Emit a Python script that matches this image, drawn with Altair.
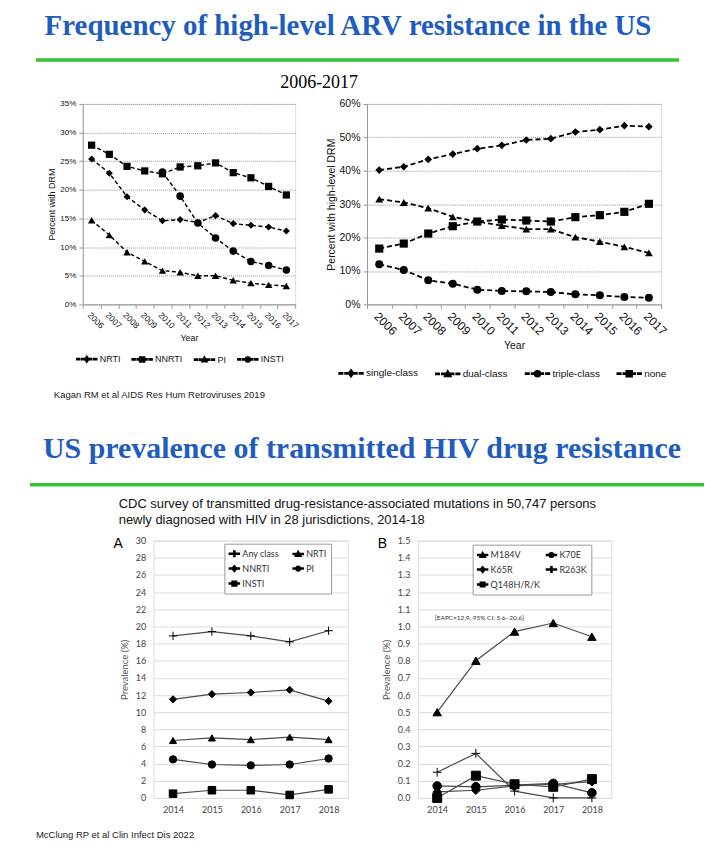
import altair as alt
import pandas as pd

# ---------------- data ----------------
years_top = [2006, 2007, 2008, 2009, 2010, 2011, 2012, 2013, 2014, 2015, 2016, 2017]

tl_names = ["NRTI", "NNRTI", "PI", "INSTI"]
tl_nrti = [25.4, 22.9, 18.8, 16.5, 14.6, 14.8, 14.3, 15.5, 14.1, 13.8, 13.5, 12.8]
tl_nnrti = [27.8, 26.2, 24.1, 23.3, 22.8, 24.0, 24.2, 24.7, 23.0, 22.1, 20.6, 19.1]
tl_pi = [14.7, 12.1, 9.1, 7.5, 5.9, 5.6, 5.0, 5.0, 4.2, 3.7, 3.4, 3.2]
tl_insti = [None, None, None, None, 23.1, 18.9, 14.2, 11.6, 9.3, 7.5, 6.8, 6.0]
tl_ticks = [0, 5, 10, 15, 20, 25, 30, 35]

tr_names = ["single-class", "dual-class", "triple-class", "none"]
tr_single = [40.2, 41.2, 43.4, 45.0, 46.6, 47.6, 49.2, 49.6, 51.6, 52.3, 53.5, 53.2]
tr_dual = [31.5, 30.5, 28.8, 26.2, 24.8, 23.6, 22.5, 22.5, 20.1, 18.8, 17.2, 15.4]
tr_triple = [12.0, 10.3, 7.2, 6.2, 4.4, 4.0, 3.9, 3.7, 3.0, 2.7, 2.2, 2.0]
tr_none = [16.7, 18.2, 21.2, 23.4, 24.8, 25.4, 25.1, 24.8, 26.1, 26.7, 27.7, 30.1]
tr_ticks = [0, 10, 20, 30, 40, 50, 60]

years_bot = [2014, 2015, 2016, 2017, 2018]

a_names = ["Any class", "NRTI", "NNRTI", "PI", "INSTI"]
a_any = [18.9, 19.4, 18.9, 18.2, 19.5]
a_nrti = [6.7, 7.0, 6.8, 7.1, 6.8]
a_nnrti = [11.5, 12.1, 12.3, 12.6, 11.3]
a_pi = [4.5, 3.9, 3.8, 3.9, 4.6]
a_insti = [0.5, 0.9, 0.9, 0.35, 1.0]
a_ticks = [0, 2, 4, 6, 8, 10, 12, 14, 16, 18, 20, 22, 24, 26, 28, 30]

b_names = ["M184V", "K70E", "K65R", "R263K", "Q148H/R/K"]
b_m184v = [0.50, 0.80, 0.97, 1.02, 0.94]
b_k70e = [0.07, 0.065, 0.075, 0.085, 0.03]
b_k65r = [0.035, 0.045, 0.07, 0.08, 0.095]
b_r263k = [0.15, 0.26, 0.04, 0.0, 0.0]
b_q148 = [0.0, 0.13, 0.08, 0.065, 0.11]
b_ticks = [0.0, 0.1, 0.2, 0.3, 0.4, 0.5, 0.6, 0.7, 0.8, 0.9, 1.0, 1.1, 1.2, 1.3, 1.4, 1.5]

title1 = "Frequency of high-level ARV resistance in the US"
title2 = "US prevalence of transmitted HIV drug resistance"
period = "2006-2017"
cite1 = "Kagan RM et al AIDS Res Hum Retroviruses 2019"
cite2 = "McClung RP et al Clin Infect Dis 2022"
sub1 = "CDC survey of transmitted drug-resistance-associated mutations in 50,747 persons"
sub2 = "newly diagnosed with HIV in 28 jurisdictions, 2014-18"
note_b = "[EAPC=12.9, 95% CI: 5.6\u201320.6]"

BLUE = "#1f5cbf"
GREEN = "#35c435"


def long(years, names, cols, prefix):
    rows = []
    for name, vals in zip(names, cols):
        for yr, v in zip(years, vals):
            if v is not None:
                rows.append({"year": yr, "series": name, "lg": prefix + name, "value": v})
    return pd.DataFrame(rows)


def deco_text(txt, x, y, **kw):
    return alt.Chart(pd.DataFrame({"t": [txt]})).mark_text(**kw).encode(
        x=alt.value(x), y=alt.value(y), text="t:N")


def deco_rule(x1, x2, y, color, width):
    return alt.Chart(pd.DataFrame({"k": [0]})).mark_rule(
        color=color, strokeWidth=width).encode(
        x=alt.value(x1), x2=alt.value(x2), y=alt.value(y))


# ---- symbol paths (legend symbols are built from filled pieces only) ----
P_PLUS = "M-1,0H1M0,-1V1"


def dash_line(t):
    return (f"M-1,-{t}H-0.7V{t}H-1Z M-0.5,-{t}H-0.22V{t}H-0.5Z "
            f"M0.22,-{t}H0.5V{t}H0.22Z M0.7,-{t}H1V{t}H0.7Z ")


def solid_line(t):
    return f"M-1,-{t}H1V{t}H-1Z "


mk_small = {
    "diamond": "M0,-0.3L0.22,0L0,0.3L-0.22,0Z",
    "square": "M-0.25,-0.25H0.25V0.25H-0.25Z",
    "triangle": "M0,-0.28L0.27,0.22H-0.27Z",
    "circle": "M0.25,0A0.25,0.25,0,1,1,-0.25,0A0.25,0.25,0,1,1,0.25,0Z",
}


def mk_big(kind, s):
    if kind == "plus":
        return f"M-{0.2 * s},-{s}H{0.2 * s}V{s}H-{0.2 * s}Z"
    if kind == "triangle":
        return f"M0,-{s}L{s},{0.8 * s}H-{s}Z"
    if kind == "diamond":
        return f"M0,-{s}L{0.85 * s},0L0,{s}L-{0.85 * s},0Z"
    if kind == "circle":
        r = 0.85 * s
        return f"M{r},0A{r},{r},0,1,1,-{r},0A{r},{r},0,1,1,{r},0Z"
    return f"M-{0.82 * s},-{0.82 * s}H{0.82 * s}V{0.82 * s}H-{0.82 * s}Z"


def dashed_panel(df, names, shapes, sizes, legpaths, ymax, ticks, ytitle, w, h,
                 lab_fs, xlab_fs, title_fs, leg_fs, leg_sym, leg_x, leg_y, leg_col_pad,
                 stroke_w, dash, ytitle_pad, extra):
    x = alt.X("year:O", bandPosition=0.5,
              scale=alt.Scale(type="band", paddingInner=0, paddingOuter=0),
              axis=alt.Axis(title="Year", labelAngle=45, labelFontSize=xlab_fs, labelColor="#111",
                            tickBand="extent", domainColor="#999", tickColor="#999", tickSize=4,
                            grid=False, titleFontSize=title_fs, titleFontWeight="normal",
                            titleColor="#111", titlePadding=4, labelPadding=2))
    y = alt.Y("value:Q", scale=alt.Scale(domain=[0, ymax], nice=False),
              axis=alt.Axis(values=ticks, labelExpr="datum.value + '%'", labelFontSize=lab_fs,
                            labelColor="#111", gridDash=[1, 1], gridColor="#999", domainColor="#999",
                            tickColor="#999", tickSize=4, labelPadding=3, title=ytitle,
                            titleFontSize=title_fs, titleFontWeight="normal", titleColor="#111",
                            titlePadding=ytitle_pad))
    lines = alt.Chart(df).mark_line(color="black", strokeWidth=stroke_w, strokeDash=dash).encode(
        x=x, y=y, detail="series:N")
    pts = alt.Chart(df).mark_point(filled=True, color="black", opacity=1).encode(
        x=x, y=y,
        shape=alt.Shape("series:N", scale=alt.Scale(domain=names, range=shapes), legend=None),
        size=alt.Size("series:O", scale=alt.Scale(domain=names, range=sizes), legend=None))
    leg = alt.Chart(df).mark_point(filled=False, color="black", fill="black", stroke="black",
                                   strokeWidth=1, opacity=1).encode(
        shape=alt.Shape("lg:N", scale=alt.Scale(domain=names, range=legpaths),
                        legend=alt.Legend(title=None, orient="none", legendX=leg_x, legendY=leg_y,
                                          direction="horizontal", symbolSize=leg_sym,
                                          labelFontSize=leg_fs, labelOffset=2,
                                          columnPadding=leg_col_pad, symbolFillColor="black",
                                          labelColor="#111", padding=0))
    ).transform_filter("false")
    return alt.layer(*extra, lines, pts, leg).resolve_scale(shape="independent").properties(
        width=w, height=h)


def excel_panel(df, names, prefix, shapes, sizes, legpaths, ymax, ticks, fmt,
                w, h, leg_x, leg_y, col_pad, extra):
    x = alt.X("year:O", axis=alt.Axis(title=None, labelAngle=0, domain=False, ticks=False,
                                      labelFontSize=9, labelColor="#444", labelPadding=8,
                                      labelFont="Lato", grid=False))
    y = alt.Y("value:Q", scale=alt.Scale(domain=[0, ymax], nice=False),
              axis=alt.Axis(values=ticks, format=fmt, grid=True, gridColor="#dcdcdc", domain=False,
                            ticks=False, labelPadding=8, labelFontSize=9, labelFont="Lato",
                            labelColor="#444", title="Prevalence (%)", titleFont="Lato",
                            titleFontSize=9.5, titleFontWeight="normal", titleColor="#555",
                            titlePadding=6))
    lines = alt.Chart(df).mark_line(color="#4a4a4a", strokeWidth=1.2).encode(
        x=x, y=y, detail="series:N")
    pts = alt.Chart(df).mark_point(filled=True, color="black", stroke="black", strokeWidth=1,
                                   opacity=1).encode(
        x=x, y=y,
        shape=alt.Shape("series:N", scale=alt.Scale(domain=names, range=shapes), legend=None),
        size=alt.Size("series:O", scale=alt.Scale(domain=names, range=sizes), legend=None))
    leg_domain = [prefix + n for n in names]
    leg = alt.Chart(df).mark_point(filled=False, color="black", fill="black", stroke="black",
                                   strokeWidth=1, opacity=1).encode(
        shape=alt.Shape("lg:N", scale=alt.Scale(domain=leg_domain, range=legpaths),
                        legend=alt.Legend(title=None, orient="none", legendX=leg_x, legendY=leg_y,
                                          columns=2, direction="horizontal", symbolSize=100,
                                          labelExpr=f"substring(datum.label, {len(prefix)})",
                                          labelFontSize=9, labelFont="Lato", labelColor="#333",
                                          labelOffset=2, columnPadding=col_pad, rowPadding=3,
                                          padding=4, strokeColor="#999", fillColor="white",
                                          symbolFillColor="black"))
    ).transform_filter("false")
    return alt.layer(lines, pts, leg, *extra).resolve_scale(shape="independent").properties(
        width=w, height=h)


# ---------------- top-left (with page decorations) ----------------
tl_df = long(years_top, tl_names, [tl_nrti, tl_nnrti, tl_pi, tl_insti], "")
page_box = alt.Chart(pd.DataFrame({"k": [0]})).mark_rect(opacity=0).encode(
    x=alt.value(-74), x2=alt.value(626), y=alt.value(-94), y2=alt.value(751))
decos = [
    page_box,
    deco_text(title1, 266, -69, font="Liberation Serif", fontSize=29, fontWeight="bold",
              color=BLUE, align="center", baseline="alphabetic"),
    deco_rule(-47, 598, -44, GREEN, 3.5),
    deco_text(period, 237, -16, font="Liberation Serif", fontSize=18, color="black",
              align="center", baseline="alphabetic"),
    deco_text(cite1, -29, 295, font="Liberation Sans", fontSize=9.5, color="#222",
              align="left", baseline="alphabetic"),
    deco_text(title2, 280, 355, font="Liberation Serif", fontSize=30, fontWeight="bold",
              color=BLUE, align="center", baseline="alphabetic"),
    deco_rule(-53, 623, 382, GREEN, 3.5),
    deco_text(sub1, 36, 405, font="Liberation Sans", fontSize=13, color="#111",
              align="left", baseline="alphabetic"),
    deco_text(sub2, 36, 421, font="Liberation Sans", fontSize=13, color="#111",
              align="left", baseline="alphabetic"),
    deco_text(cite2, -47, 736, font="Liberation Sans", fontSize=9.5, color="#222",
              align="left", baseline="alphabetic"),
]
tl = dashed_panel(tl_df, tl_names, ["diamond", "square", "triangle-up", "circle"],
                  [50, 81, 64, 64],
                  [dash_line(0.06) + mk_small["diamond"], dash_line(0.06) + mk_small["square"],
                   dash_line(0.06) + mk_small["triangle"], dash_line(0.06) + mk_small["circle"]],
                  35, tl_ticks, "Percent with DRM", 213, 201, 8, 8.5, 9, 9, 400, -7, 245, 8.5,
                  1.4, [4, 2.5], 3, decos)

# ---------------- top-right ----------------
tr_df = long(years_top, tr_names, [tr_single, tr_dual, tr_triple, tr_none], "")
tr = dashed_panel(tr_df, tr_names, ["diamond", "triangle-up", "circle", "square"],
                  [85, 110, 110, 120],
                  [dash_line(0.055) + mk_small["diamond"], dash_line(0.055) + mk_small["triangle"],
                   dash_line(0.055) + mk_small["circle"], dash_line(0.055) + mk_small["square"]],
                  60, tr_ticks, "Percent with high-level DRM", 295, 201, 10.5, 12, 10.5, 10, 576,
                  -29, 257, 14, 1.8, [5, 3], 3, [])

# ---------------- bottom A ----------------
a_df = long(years_bot, a_names, [a_any, a_nrti, a_nnrti, a_pi, a_insti], "a:")
a_extra = [deco_text("A", -35.5, 7, font="Liberation Sans", fontSize=14, color="black",
                     align="center", baseline="alphabetic")]
a_chart = excel_panel(a_df, a_names, "a:", [P_PLUS, "triangle-up", "diamond", "circle", "square"],
                      [80, 55, 45, 70, 55],
                      [solid_line(0.1) + mk_big("plus", 0.56), solid_line(0.1) + mk_big("triangle", 0.56),
                       solid_line(0.1) + mk_big("diamond", 0.6), solid_line(0.1) + mk_big("circle", 0.56),
                       solid_line(0.1) + mk_big("square", 0.57)],
                      30, a_ticks, "d", 195, 258, 71, 3, 11, a_extra)

# ---------------- bottom B ----------------
b_df = long(years_bot, b_names, [b_m184v, b_k70e, b_k65r, b_r263k, b_q148], "b:")
b_extra = [
    deco_text("B", -35.5, 7, font="Liberation Sans", fontSize=14, color="black",
              align="center", baseline="alphabetic"),
    deco_text(note_b, 17, 80, font="Lato", fontSize=6.5, color="#333", align="left",
              baseline="alphabetic"),
]
b_chart = excel_panel(b_df, b_names, "b:", ["triangle-up", "circle", "diamond", P_PLUS, "square"],
                      [55, 70, 45, 80, 55],
                      [solid_line(0.1) + mk_big("triangle", 0.55), solid_line(0.1) + mk_big("circle", 0.55),
                       solid_line(0.1) + mk_big("diamond", 0.59), solid_line(0.1) + mk_big("plus", 0.55),
                       solid_line(0.1) + mk_big("square", 0.56)],
                      1.5, b_ticks, ".1f", 194, 258, 55, 4, 3, b_extra)

spacer = alt.Chart(pd.DataFrame({"k": [0]})).mark_point(opacity=0).properties(width=1, height=258)

row1 = alt.hconcat(tl, tr, spacing=72, bounds="flush")
row2 = alt.hconcat(spacer, a_chart, b_chart, spacing=70, bounds="flush")

chart = alt.vconcat(row1, row2, spacing=438, bounds="flush").properties(
    padding=0
).configure_view(strokeWidth=0).configure(font="Liberation Sans")

chart.save("out.html", embed_options={"renderer": "svg", "actions": False})
